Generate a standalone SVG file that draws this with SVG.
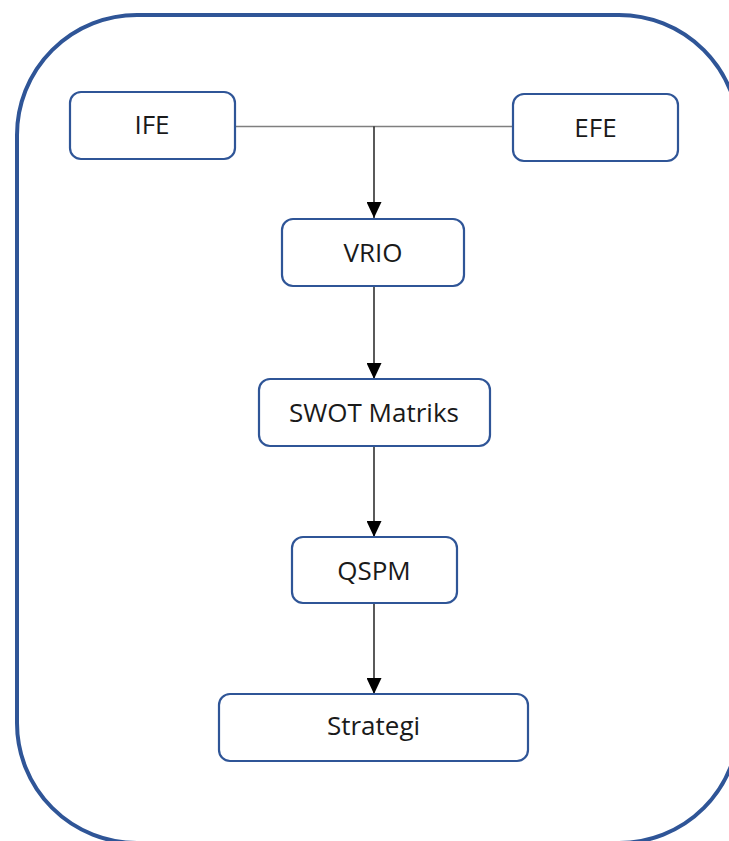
<svg xmlns="http://www.w3.org/2000/svg" width="729" height="841" viewBox="0 0 729 841">
<style>
.node rect{fill:#fff;stroke:#2F5597;stroke-width:2.2}
.node text{font-family:"Open Sans","Liberation Sans",sans-serif;font-size:26px;fill:#1a1a1a;text-anchor:middle}
.conn line{stroke:#000;stroke-width:1.3}
.conn .h{stroke:#7f7f7f;stroke-width:1.6}
</style>
<defs>
<marker id="ah" viewBox="0 0 16 15" markerWidth="16" markerHeight="15" refX="16" refY="7.5" orient="auto" markerUnits="userSpaceOnUse">
<path d="M0,0 L16,7.5 L0,15 Z" fill="#000"/>
</marker>
</defs>
<rect x="17" y="15" width="722" height="828" rx="120" ry="120" fill="#fff" stroke="#2F5597" stroke-width="4"/>
<g id="connectors" class="conn">
<line class="h" x1="235" y1="126.5" x2="513" y2="126.5"/>
<line x1="374" y1="126.5" x2="374" y2="218" marker-end="url(#ah)"/>
<line x1="374" y1="287" x2="374" y2="379" marker-end="url(#ah)"/>
<line x1="374" y1="446" x2="374" y2="537" marker-end="url(#ah)"/>
<line x1="374" y1="603" x2="374" y2="694" marker-end="url(#ah)"/>
</g>
<g id="ife" class="node"><rect x="70" y="92" width="165" height="67" rx="11"/><text x="152" y="134">IFE</text></g>
<g id="efe" class="node"><rect x="513" y="94" width="165" height="67" rx="11"/><text x="595.5" y="137">EFE</text></g>
<g id="vrio" class="node"><rect x="282" y="219" width="182" height="67" rx="11"/><text x="373" y="262">VRIO</text></g>
<g id="swot" class="node"><rect x="259" y="379" width="231" height="67" rx="11"/><text x="374" y="422">SWOT Matriks</text></g>
<g id="qspm" class="node"><rect x="292" y="537" width="165" height="66" rx="11"/><text x="374" y="580">QSPM</text></g>
<g id="strategi" class="node"><rect x="219" y="694" width="309" height="67" rx="11"/><text x="373.5" y="735">Strategi</text></g>
</svg>
